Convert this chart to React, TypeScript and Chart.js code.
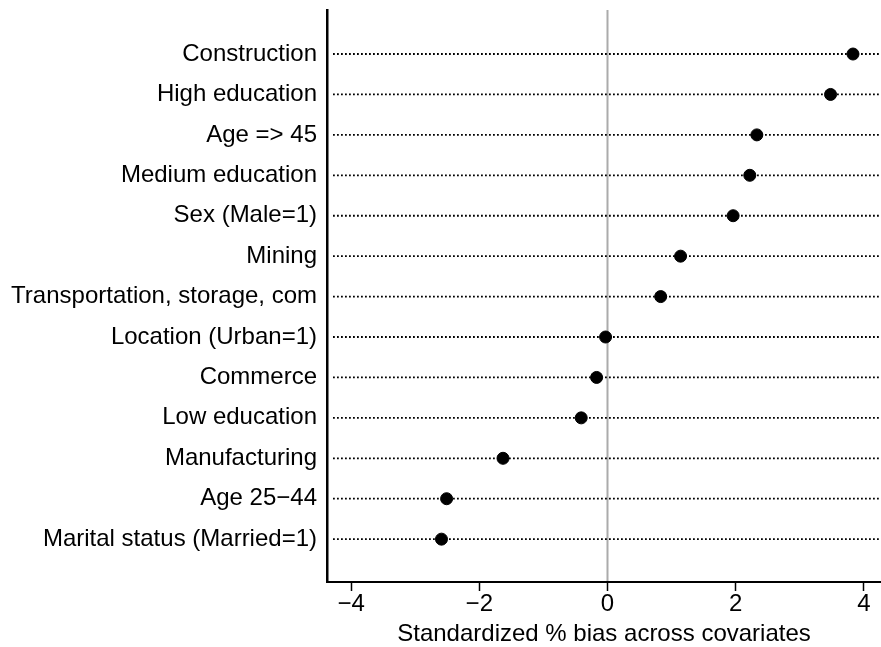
import { useEffect, useRef } from 'react';
import { Chart, registerables } from 'chart.js';

Chart.register(...registerables);

// Covariates, top to bottom
const covariates = [
  'Construction',
  'High education',
  'Age => 45',
  'Medium education',
  'Sex (Male=1)',
  'Mining',
  'Transportation, storage, com',
  'Location (Urban=1)',
  'Commerce',
  'Low education',
  'Manufacturing',
  'Age 25\u221244',
  'Marital status (Married=1)',
];

// Standardized % bias per covariate
const biasValues = [3.83, 3.48, 2.33, 2.22, 1.96, 1.14, 0.83, -0.03, -0.17, -0.41, -1.63, -2.51, -2.59];

const xTicks = [-4, -2, 0, 2, 4];

const FONT = '"Liberation Sans", Arial, Helvetica, sans-serif';

const guidesPlugin = {
  id: 'guides',
  beforeDatasetsDraw(chart: any) {
    const { ctx, chartArea, scales } = chart;
    const x = scales.x;
    const y = scales.y;
    ctx.save();
    // reference line at zero
    const x0 = x.getPixelForValue(0);
    ctx.strokeStyle = '#ababab';
    ctx.lineWidth = 2;
    ctx.beginPath();
    ctx.moveTo(x0, chartArea.top);
    ctx.lineTo(x0, chartArea.bottom - 1);
    ctx.stroke();
    // dotted guide per covariate
    ctx.strokeStyle = '#000';
    ctx.lineWidth = 1.8;
    ctx.setLineDash([1.8, 2.2]);
    covariates.forEach((_, i) => {
      const py = y.getPixelForValue(i);
      ctx.beginPath();
      ctx.moveTo(chartArea.left + 6, py);
      ctx.lineTo(chartArea.right, py);
      ctx.stroke();
    });
    ctx.restore();
  },
};

export default function App() {
  const ref = useRef<HTMLCanvasElement>(null);

  useEffect(() => {
    document.body.style.margin = '0';
    const canvas = ref.current;
    if (!canvas) return;
    const chart = new Chart(canvas, {
      type: 'scatter',
      data: {
        datasets: [
          {
            data: biasValues.map((v, i) => ({ x: v, y: i })),
            backgroundColor: '#000',
            borderColor: '#000',
            pointRadius: 6,
            pointHoverRadius: 6,
          },
        ],
      },
      options: {
        animation: false,
        responsive: false,
        devicePixelRatio: 1,
        layout: { autoPadding: false, padding: { top: 10, left: 0, right: 0, bottom: 0 } },
        plugins: {
          legend: { display: false },
          tooltip: { enabled: false },
        },
        scales: {
          x: {
            type: 'linear',
            min: -4.376,
            max: 4.267,
            afterBuildTicks: (scale: any) => {
              scale.ticks = xTicks.map((v) => ({ value: v }));
            },
            afterFit: (scale: any) => {
              scale.height = 65;
              scale.paddingLeft = 0;
              scale.paddingRight = 0;
            },
            grid: {
              drawOnChartArea: false,
              drawTicks: true,
              tickLength: 9,
              tickColor: '#000',
              tickWidth: 1.5,
            },
            border: { display: true, color: '#000', width: 2 },
            ticks: {
              color: '#000',
              padding: -1,
              font: { family: FONT, size: 24 },
              callback: (v: any) => String(v).replace('-', '\u2212'),
            },
            title: {
              display: true,
              text: 'Standardized % bias across covariates',
              color: '#000',
              font: { family: FONT, size: 24 },
              padding: { top: 0, bottom: -2 },
            },
          },
          y: {
            type: 'linear',
            reverse: true,
            min: -1.089,
            max: 13.06,
            afterBuildTicks: (scale: any) => {
              scale.ticks = covariates.map((_, i) => ({ value: i }));
            },
            afterFit: (scale: any) => {
              scale.width = 327;
              scale.paddingTop = 0;
              scale.paddingBottom = 0;
            },
            grid: { display: false, drawTicks: false },
            border: { display: true, color: '#000', width: 2.5 },
            ticks: {
              color: '#000',
              padding: 10,
              autoSkip: false,
              font: { family: FONT, size: 24 },
              callback: (v: any) => covariates[v as number] ?? '',
            },
          },
        },
      },
      plugins: [guidesPlugin],
    });
    return () => chart.destroy();
  }, []);

  return <canvas ref={ref} width={881} height={647} style={{ display: 'block' }} />;
}
